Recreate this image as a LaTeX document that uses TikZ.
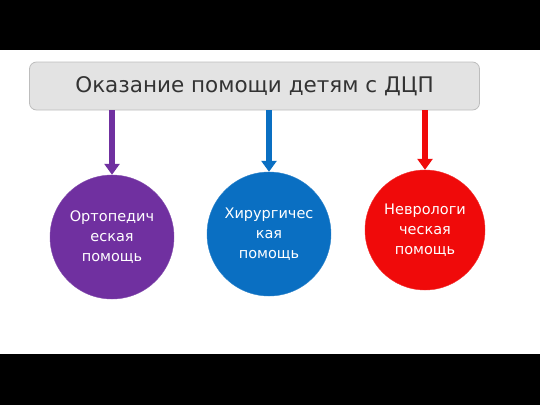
\documentclass[tikz,border=0pt]{standalone}
\usepackage{fontspec}
\setmainfont{DejaVu Sans}
\usetikzlibrary{arrows.meta}
\definecolor{cpurple}{HTML}{7030A0}
\definecolor{cblue}{HTML}{0A6FC2}
\definecolor{cred}{HTML}{F00A0A}
\definecolor{boxfill}{HTML}{E3E3E3}
\definecolor{boxline}{HTML}{BDBDBD}
\begin{document}
\begin{tikzpicture}[x=1pt,y=-1pt,
  titlebox/.style={draw=boxline,fill=boxfill,rounded corners=7pt,line width=0.8pt,minimum width=450pt,minimum height=48pt,font=\fontsize{21.5}{26}\selectfont,text=black!80},
  disc/.style={circle,minimum size=124pt,inner sep=0pt,text=white,align=center,font=\fontsize{14.5}{20}\selectfont},
  conn/.style={line width=6pt,-{Triangle[width=15pt,length=11pt]}}]
\useasboundingbox (0,0) rectangle (540,405);
\fill[black] (0,0) rectangle (540,50);
\fill[black] (0,354) rectangle (540,405);
\node[titlebox] (title) at (254.5,86) {Оказание помощи детям с ДЦП};
\node[disc,fill=cpurple,draw=cpurple!85!white] (c1) at (112,237) {Ортопедич\\еская\\помощь};
\node[disc,fill=cblue,draw=cblue!85!white] (c2) at (269,234) {Хирургичес\\кая\\помощь};
\node[disc,fill=cred,draw=cred!85!white,minimum size=120pt] (c3) at (425,230) {Неврологи\\ческая\\помощь};
\draw[conn,cpurple] (title.south -| c1) -- (c1.north);
\draw[conn,cblue] (title.south -| c2) -- (c2.north);
\draw[conn,cred] (title.south -| c3) -- (c3.north);
\end{tikzpicture}
\end{document}
